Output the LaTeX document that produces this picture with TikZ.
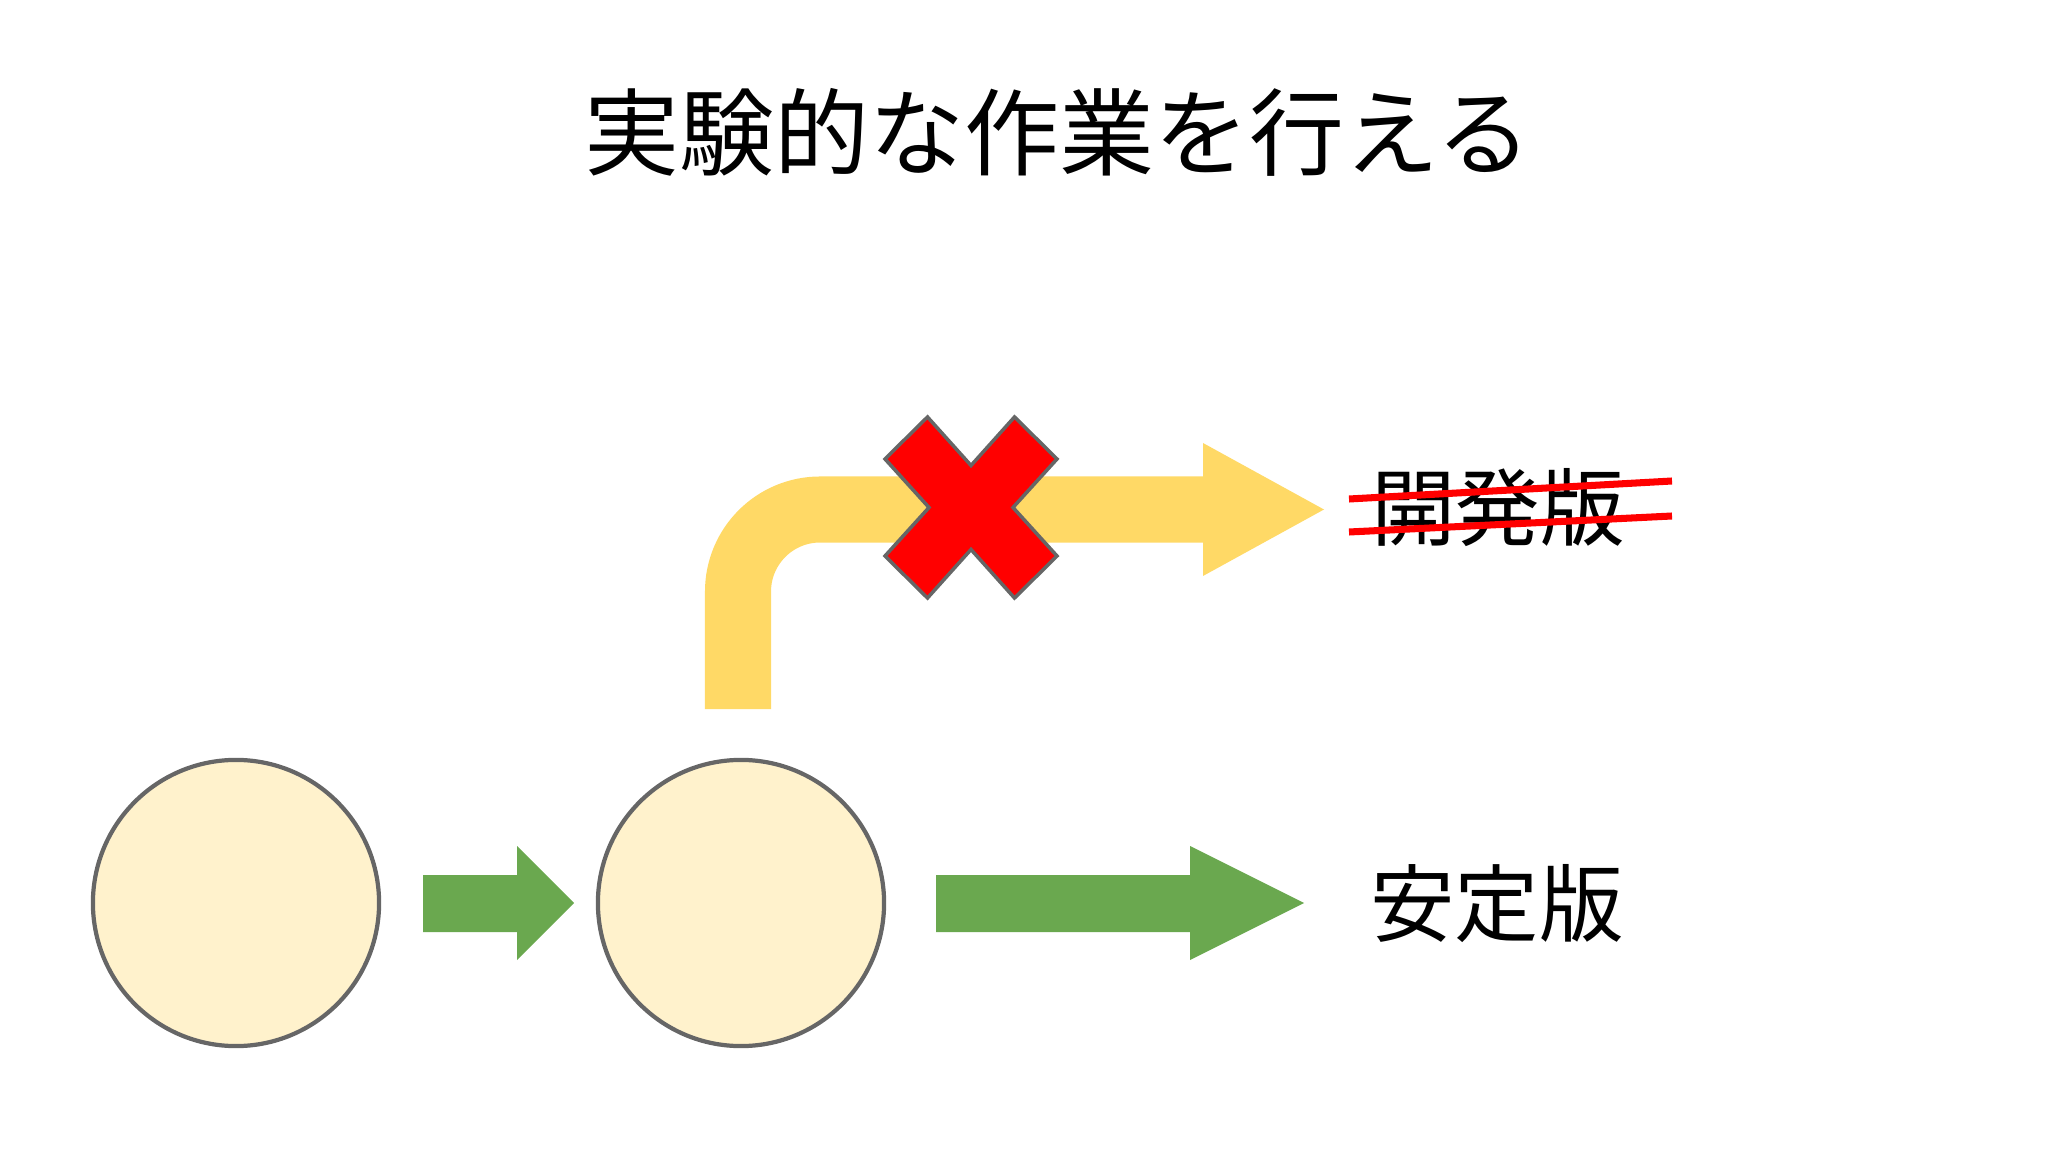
\documentclass[tikz,border=0pt]{standalone}
\usepackage{fontspec}
\setmainfont{Noto Sans CJK JP}
\definecolor{cream}{HTML}{FFF2CC}
\definecolor{leaf}{HTML}{6AA84F}
\definecolor{honey}{HTML}{FFD966}
\definecolor{rim}{HTML}{666666}
\tikzset{commit/.style={circle,draw=rim,fill=cream,line width=1.2pt,minimum size=2.86cm,inner sep=0pt},
  vername/.style={inner sep=0pt,font=\fontsize{24}{28}\selectfont}}
\begin{document}
\begin{tikzpicture}[x=.01cm,y=-.01cm]
  \useasboundingbox (0,0) rectangle (2048,1152);
  \node[inner sep=0pt,font=\fontsize{27}{32}\selectfont] (title) at (1058,132) {実験的な作業を行える};
  \node[commit] (c1) at (236,903) {}; \node[commit] (c2) at (741,903) {};
  \fill[leaf] (423,875) -- (517,875) -- (517,846) -- (574,903) -- (517,960) -- (517,932) -- (423,932) -- cycle;
  \fill[leaf] (936,875) -- (1190,875) -- (1190,846) -- (1304,903) -- (1190,960) -- (1190,932) -- (936,932) -- cycle;
  \draw[honey,line width=.66cm,rounded corners=.82cm] (738,709) -- (738,509.5) -- (1205,509.5);
  \fill[honey] (1203,443) -- (1324,509.5) -- (1203,576) -- cycle;
  \filldraw[fill=red,draw=rim,line width=1pt,shift={(971,507.5)}] (0,-42) -- (43.5,-90.5) -- (86,-48.5) -- (42,0) -- (86,48.5) -- (43.5,90.5) -- (0,42) -- (-43.5,90.5) -- (-86,48.5) -- (-42,0) -- (-86,-48.5) -- (-43.5,-90.5) -- cycle;
  \node[vername] (stable) at (1497,904) {安定版}; \node[vername] (dev) at (1498,508) {開発版};
  \draw[red,line width=2pt] (1349,499) -- (1672,481); \draw[red,line width=2pt] (1349,532) -- (1672,516);
\end{tikzpicture}
\end{document}
